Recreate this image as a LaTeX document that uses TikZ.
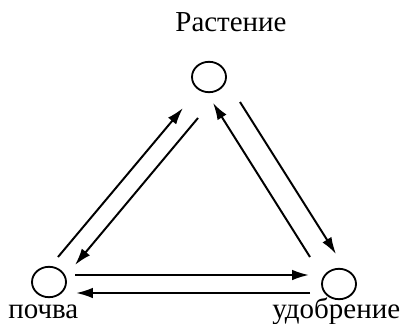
\documentclass[tikz,border=0pt]{standalone}
\usepackage{fontspec}
\setmainfont{Liberation Serif}
\usetikzlibrary{arrows.meta,shapes.geometric}

\begin{document}
\begin{tikzpicture}[
  font=\fontsize{20.6}{24}\selectfont,
  pool/.style={draw, ellipse, line width=1.3pt, minimum width=8.5mm, minimum height=7.6mm, inner sep=0pt},
  lbl/.style={inner sep=0pt},
  arrow/.style={-{Latex[length=12pt,width=7.5pt]}, line width=1.4pt}
]
\useasboundingbox (0,0) rectangle (10.05,8.075);

\node[pool] (plant) at (5.225,6.15) {};
\node[pool] (soil) at (1.225,1.025) {};
\node[pool] (fert) at (8.475,0.975) {};

\node[lbl, anchor=base] (plantlbl) at (5.775,7.275) {Растение};
\node[lbl, anchor=base west] (soillbl) at (0.2,0.125) {почва};
\node[lbl, anchor=base west] (fertlbl) at (6.8,0.125) {удобрение};

% soil <-> plant
\draw[arrow] ([shift={(0.225,0.625)}]soil.center) -- ([shift={(-0.65,-0.775)}]plant.center);
\draw[arrow] ([shift={(-0.275,-1.025)}]plant.center) -- ([shift={(0.65,0.425)}]soil.center);
% fert <-> plant
\draw[arrow] ([shift={(-0.725,0.675)}]fert.center) -- ([shift={(0.1,-0.65)}]plant.center);
\draw[arrow] ([shift={(0.775,-0.625)}]plant.center) -- ([shift={(-0.075,0.75)}]fert.center);
% soil <-> fert
\draw[arrow] ([shift={(0.65,0.175)}]soil.center) -- ([shift={(-0.75,0.225)}]fert.center);
\draw[arrow] ([shift={(-0.725,-0.225)}]fert.center) -- ([shift={(0.675,-0.275)}]soil.center);

\end{tikzpicture}
\end{document}
